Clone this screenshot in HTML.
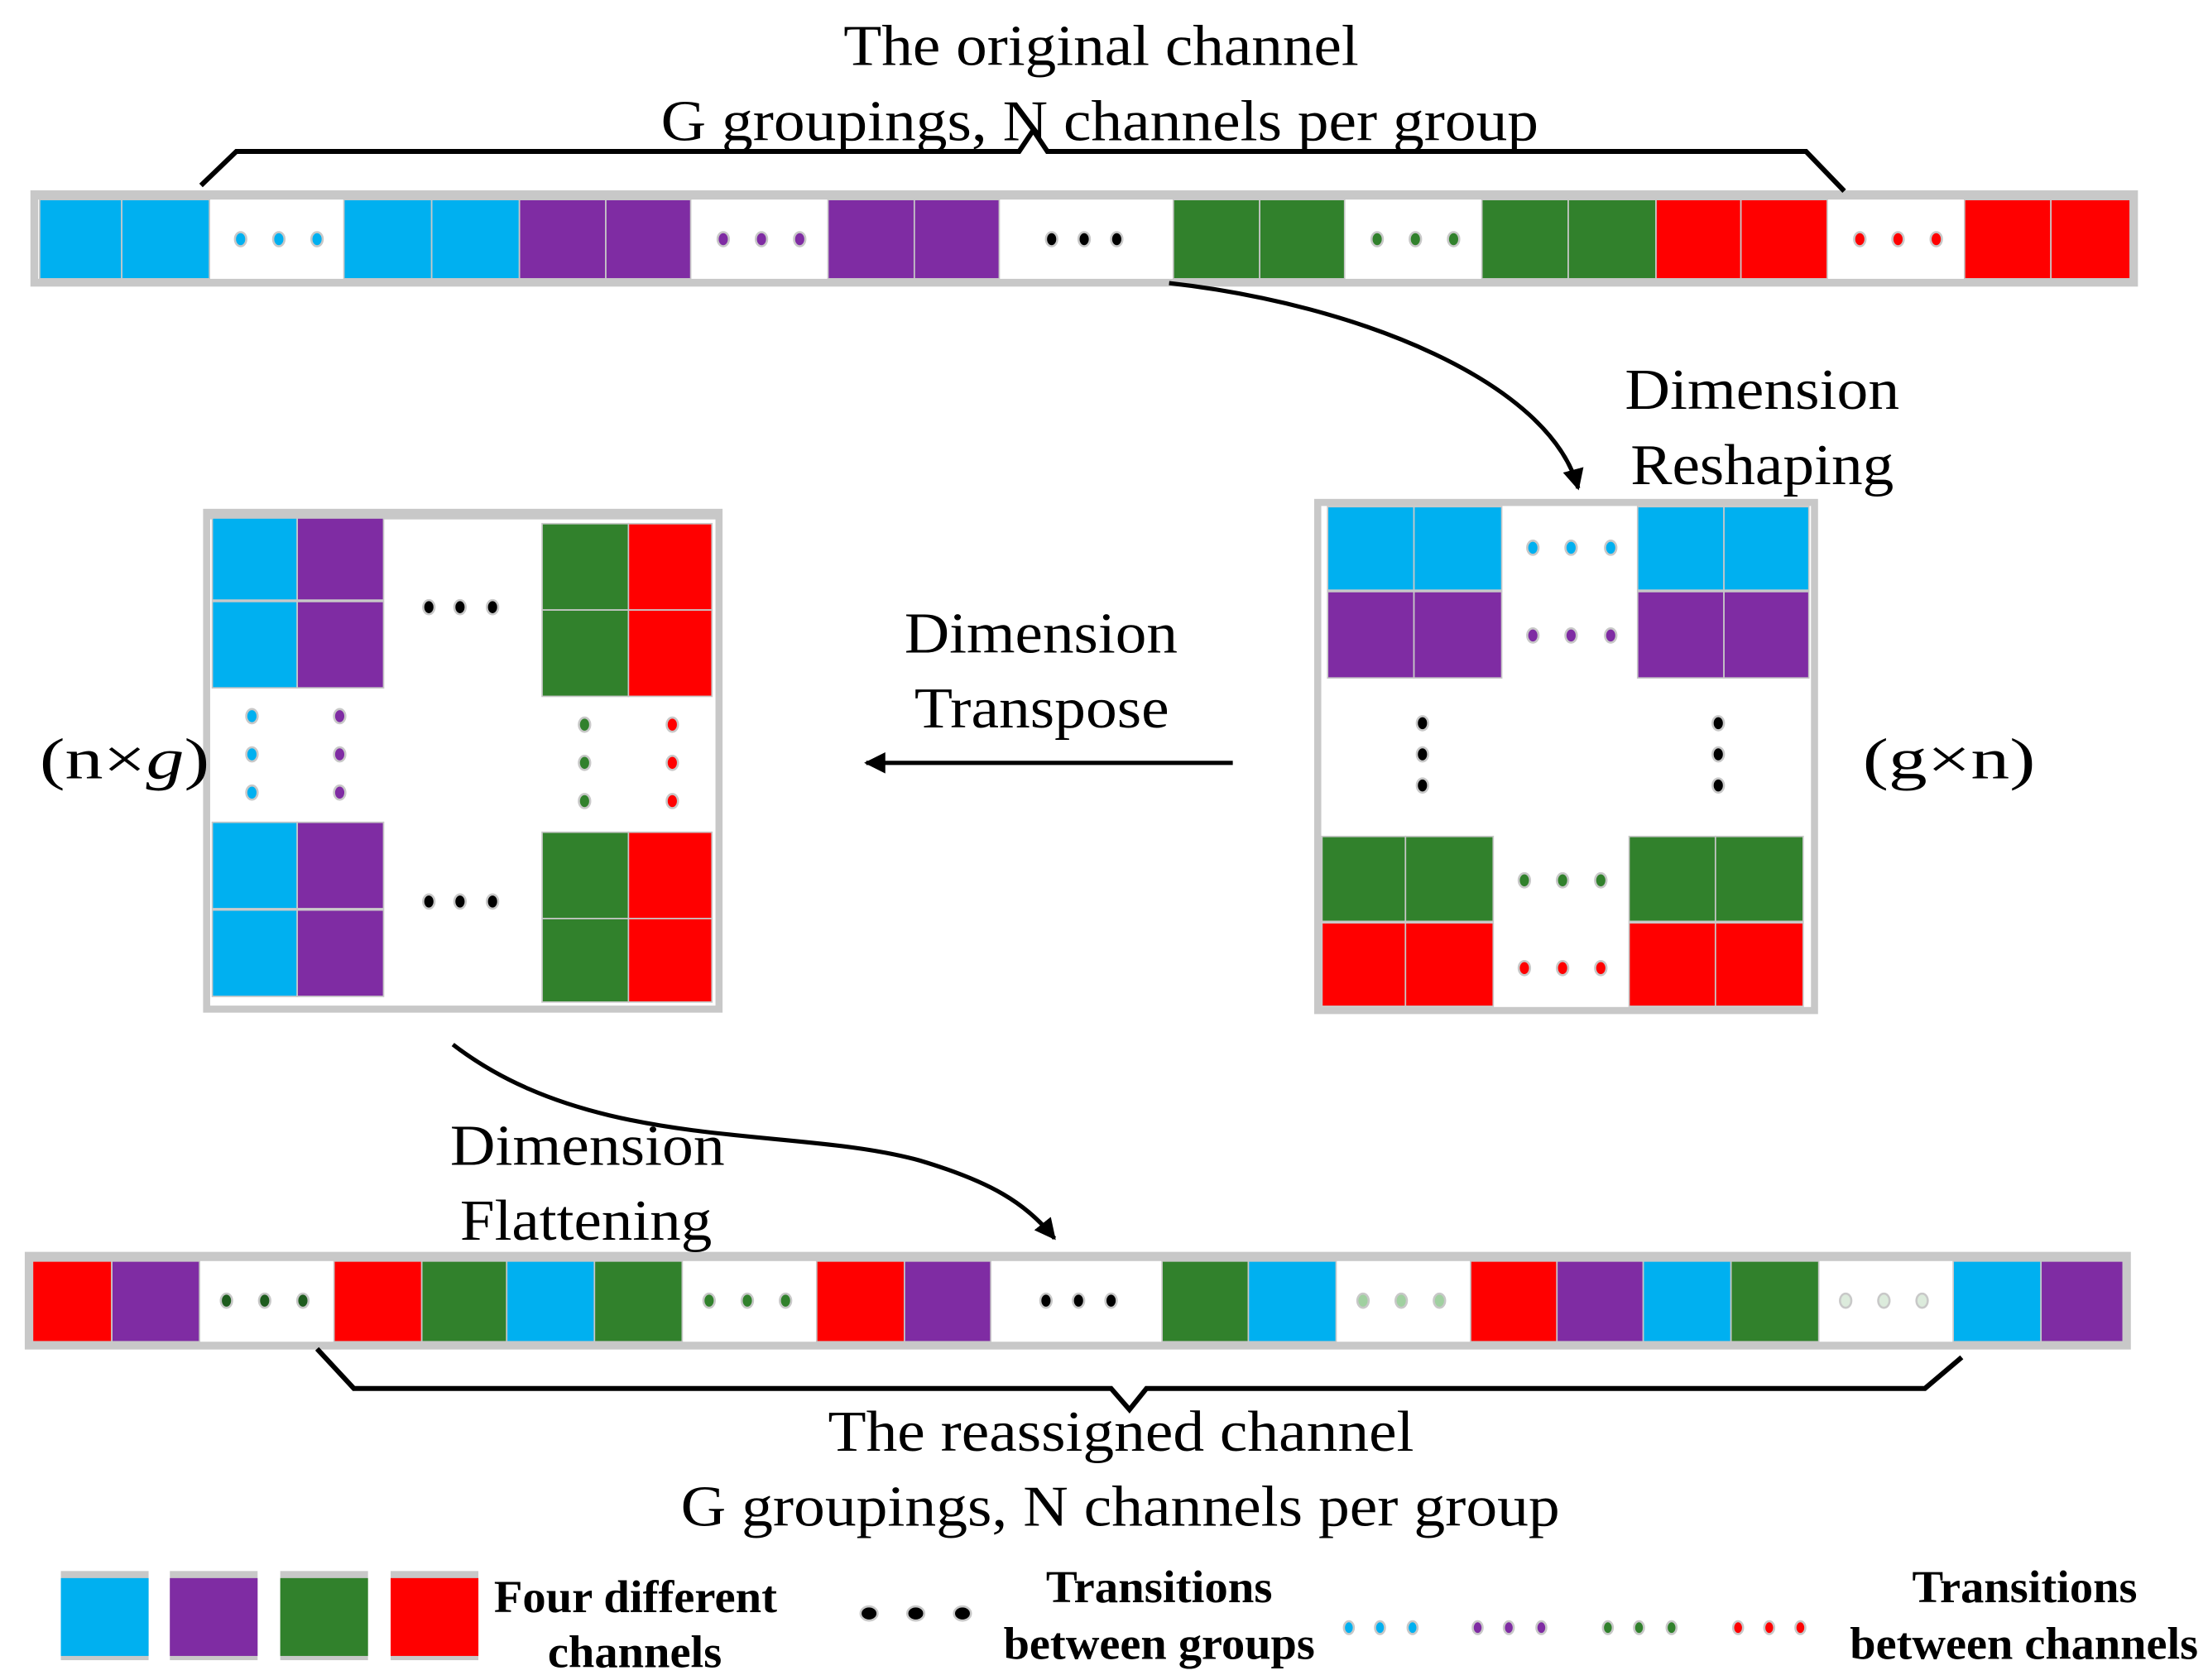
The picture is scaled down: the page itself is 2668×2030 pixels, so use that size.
<!DOCTYPE html>
<html><head><meta charset="utf-8"><style>
html,body{margin:0;padding:0;background:#fff;}
svg{display:block;}
text{font-family:"Liberation Serif",serif;fill:#000;}
</style></head><body>
<svg width="2668" height="2030" viewBox="0 0 1560 1187" preserveAspectRatio="none" xmlns="http://www.w3.org/2000/svg">
<defs>
<marker id="ah" viewBox="0 0 10 10" refX="9" refY="5" markerWidth="5" markerHeight="5" orient="auto" markerUnits="strokeWidth"><path d="M0,0 L10,5 L0,10 z" fill="#000"/></marker>
</defs>
<g stroke="#c8c8c8" stroke-width="1">
<!-- TOP BAR -->
<rect x="22" y="135" width="1488" height="67" fill="#c8c8c8"/>
<rect x="27" y="141" width="1478" height="56" fill="#fff" stroke="none"/>
<g>
<rect x="28" y="141" width="58" height="56" fill="#00b0f0"/>
<rect x="86" y="141" width="62" height="56" fill="#00b0f0"/>
<rect x="243" y="141" width="62" height="56" fill="#00b0f0"/>
<rect x="305" y="141" width="62" height="56" fill="#00b0f0"/>
<rect x="367" y="141" width="61" height="56" fill="#7f2ca3"/>
<rect x="428" y="141" width="60" height="56" fill="#7f2ca3"/>
<rect x="585" y="141" width="61" height="56" fill="#7f2ca3"/>
<rect x="646" y="141" width="60" height="56" fill="#7f2ca3"/>
<rect x="829" y="141" width="61" height="56" fill="#31812c"/>
<rect x="890" y="141" width="60" height="56" fill="#31812c"/>
<rect x="1047" y="141" width="61" height="56" fill="#31812c"/>
<rect x="1108" y="141" width="62" height="56" fill="#31812c"/>
<rect x="1170" y="141" width="60" height="56" fill="#ff0000"/>
<rect x="1230" y="141" width="61" height="56" fill="#ff0000"/>
<rect x="1388" y="141" width="61" height="56" fill="#ff0000"/>
<rect x="1449" y="141" width="56" height="56" fill="#ff0000"/>
</g>
<g stroke-width="1.5">
<ellipse cx="170" cy="169" rx="4" ry="5" fill="#00b0f0"/><ellipse cx="197" cy="169" rx="4" ry="5" fill="#00b0f0"/><ellipse cx="224" cy="169" rx="4" ry="5" fill="#00b0f0"/>
<ellipse cx="511" cy="169" rx="4" ry="5" fill="#7f2ca3"/><ellipse cx="538" cy="169" rx="4" ry="5" fill="#7f2ca3"/><ellipse cx="565" cy="169" rx="4" ry="5" fill="#7f2ca3"/>
<ellipse cx="743" cy="169" rx="4" ry="5" fill="#000"/><ellipse cx="766" cy="169" rx="4" ry="5" fill="#000"/><ellipse cx="789" cy="169" rx="4" ry="5" fill="#000"/>
<ellipse cx="973" cy="169" rx="4" ry="5" fill="#31812c"/><ellipse cx="1000" cy="169" rx="4" ry="5" fill="#31812c"/><ellipse cx="1027" cy="169" rx="4" ry="5" fill="#31812c"/>
<ellipse cx="1314" cy="169" rx="4" ry="5" fill="#ff0000"/><ellipse cx="1341" cy="169" rx="4" ry="5" fill="#ff0000"/><ellipse cx="1368" cy="169" rx="4" ry="5" fill="#ff0000"/>
</g>

<!-- LEFT BOX (n x g) -->
<rect x="146" y="362" width="362" height="351" fill="#fff" stroke="#c8c8c8" stroke-width="5"/>
<rect x="146" y="362" width="362" height="5" fill="#c8c8c8" stroke="none"/>
<rect x="150" y="366" width="60" height="58" fill="#00b0f0"/>
<rect x="210" y="366" width="61" height="58" fill="#7f2ca3"/>
<rect x="150" y="425" width="60" height="61" fill="#00b0f0"/>
<rect x="210" y="425" width="61" height="61" fill="#7f2ca3"/>
<rect x="383" y="370" width="61" height="61" fill="#31812c"/>
<rect x="444" y="370" width="59" height="61" fill="#ff0000"/>
<rect x="383" y="431" width="61" height="61" fill="#31812c"/>
<rect x="444" y="431" width="59" height="61" fill="#ff0000"/>
<rect x="150" y="581" width="60" height="61" fill="#00b0f0"/>
<rect x="210" y="581" width="61" height="61" fill="#7f2ca3"/>
<rect x="150" y="643" width="60" height="61" fill="#00b0f0"/>
<rect x="210" y="643" width="61" height="61" fill="#7f2ca3"/>
<rect x="383" y="588" width="61" height="61" fill="#31812c"/>
<rect x="444" y="588" width="59" height="61" fill="#ff0000"/>
<rect x="383" y="649" width="61" height="59" fill="#31812c"/>
<rect x="444" y="649" width="59" height="59" fill="#ff0000"/>
<g stroke-width="1.5">
<ellipse cx="303" cy="429" rx="4" ry="5" fill="#000"/><ellipse cx="325" cy="429" rx="4" ry="5" fill="#000"/><ellipse cx="348" cy="429" rx="4" ry="5" fill="#000"/>
<ellipse cx="303" cy="637" rx="4" ry="5" fill="#000"/><ellipse cx="325" cy="637" rx="4" ry="5" fill="#000"/><ellipse cx="348" cy="637" rx="4" ry="5" fill="#000"/>
<ellipse cx="178" cy="506" rx="4" ry="5" fill="#00b0f0"/><ellipse cx="178" cy="533" rx="4" ry="5" fill="#00b0f0"/><ellipse cx="178" cy="560" rx="4" ry="5" fill="#00b0f0"/>
<ellipse cx="240" cy="506" rx="4" ry="5" fill="#7f2ca3"/><ellipse cx="240" cy="533" rx="4" ry="5" fill="#7f2ca3"/><ellipse cx="240" cy="560" rx="4" ry="5" fill="#7f2ca3"/>
<ellipse cx="413" cy="512" rx="4" ry="5" fill="#31812c"/><ellipse cx="413" cy="539" rx="4" ry="5" fill="#31812c"/><ellipse cx="413" cy="566" rx="4" ry="5" fill="#31812c"/>
<ellipse cx="475" cy="512" rx="4" ry="5" fill="#ff0000"/><ellipse cx="475" cy="539" rx="4" ry="5" fill="#ff0000"/><ellipse cx="475" cy="566" rx="4" ry="5" fill="#ff0000"/>
</g>

<!-- RIGHT BOX (g x n) -->
<rect x="931" y="355" width="351" height="359" fill="#fff" stroke="#c8c8c8" stroke-width="5"/>
<rect x="938" y="358" width="61" height="59" fill="#00b0f0"/>
<rect x="999" y="358" width="62" height="59" fill="#00b0f0"/>
<rect x="1157" y="358" width="61" height="59" fill="#00b0f0"/>
<rect x="1218" y="358" width="60" height="59" fill="#00b0f0"/>
<rect x="938" y="418" width="61" height="61" fill="#7f2ca3"/>
<rect x="999" y="418" width="62" height="61" fill="#7f2ca3"/>
<rect x="1157" y="418" width="61" height="61" fill="#7f2ca3"/>
<rect x="1218" y="418" width="60" height="61" fill="#7f2ca3"/>
<rect x="934" y="591" width="59" height="60" fill="#31812c"/>
<rect x="993" y="591" width="62" height="60" fill="#31812c"/>
<rect x="1151" y="591" width="61" height="60" fill="#31812c"/>
<rect x="1212" y="591" width="62" height="60" fill="#31812c"/>
<rect x="934" y="652" width="59" height="59" fill="#ff0000"/>
<rect x="993" y="652" width="62" height="59" fill="#ff0000"/>
<rect x="1151" y="652" width="61" height="59" fill="#ff0000"/>
<rect x="1212" y="652" width="62" height="59" fill="#ff0000"/>
<g stroke-width="1.5">
<ellipse cx="1083" cy="387" rx="4" ry="5" fill="#00b0f0"/><ellipse cx="1110" cy="387" rx="4" ry="5" fill="#00b0f0"/><ellipse cx="1138" cy="387" rx="4" ry="5" fill="#00b0f0"/>
<ellipse cx="1083" cy="449" rx="4" ry="5" fill="#7f2ca3"/><ellipse cx="1110" cy="449" rx="4" ry="5" fill="#7f2ca3"/><ellipse cx="1138" cy="449" rx="4" ry="5" fill="#7f2ca3"/>
<ellipse cx="1005" cy="511" rx="4" ry="5" fill="#000"/><ellipse cx="1005" cy="533" rx="4" ry="5" fill="#000"/><ellipse cx="1005" cy="555" rx="4" ry="5" fill="#000"/>
<ellipse cx="1214" cy="511" rx="4" ry="5" fill="#000"/><ellipse cx="1214" cy="533" rx="4" ry="5" fill="#000"/><ellipse cx="1214" cy="555" rx="4" ry="5" fill="#000"/>
<ellipse cx="1077" cy="622" rx="4" ry="5" fill="#31812c"/><ellipse cx="1104" cy="622" rx="4" ry="5" fill="#31812c"/><ellipse cx="1131" cy="622" rx="4" ry="5" fill="#31812c"/>
<ellipse cx="1077" cy="684" rx="4" ry="5" fill="#ff0000"/><ellipse cx="1104" cy="684" rx="4" ry="5" fill="#ff0000"/><ellipse cx="1131" cy="684" rx="4" ry="5" fill="#ff0000"/>
</g>

<!-- BOTTOM BAR -->
<rect x="18" y="885" width="1487" height="68" fill="#c8c8c8"/>
<rect x="23" y="891" width="1477" height="57" fill="#fff" stroke="none"/>
<rect x="23" y="891" width="56" height="57" fill="#ff0000"/>
<rect x="79" y="891" width="62" height="57" fill="#7f2ca3"/>
<rect x="236" y="891" width="62" height="57" fill="#ff0000"/>
<rect x="298" y="891" width="60" height="57" fill="#31812c"/>
<rect x="358" y="891" width="62" height="57" fill="#00b0f0"/>
<rect x="420" y="891" width="62" height="57" fill="#31812c"/>
<rect x="577" y="891" width="62" height="57" fill="#ff0000"/>
<rect x="639" y="891" width="61" height="57" fill="#7f2ca3"/>
<rect x="821" y="891" width="61" height="57" fill="#31812c"/>
<rect x="882" y="891" width="62" height="57" fill="#00b0f0"/>
<rect x="1039" y="891" width="61" height="57" fill="#ff0000"/>
<rect x="1100" y="891" width="61" height="57" fill="#7f2ca3"/>
<rect x="1161" y="891" width="62" height="57" fill="#00b0f0"/>
<rect x="1223" y="891" width="62" height="57" fill="#31812c"/>
<rect x="1380" y="891" width="62" height="57" fill="#00b0f0"/>
<rect x="1442" y="891" width="58" height="57" fill="#7f2ca3"/>
<g stroke-width="1.5">
<ellipse cx="160" cy="919" rx="4" ry="5" fill="#1e5c1e"/><ellipse cx="187" cy="919" rx="4" ry="5" fill="#1e5c1e"/><ellipse cx="214" cy="919" rx="4" ry="5" fill="#1e5c1e"/>
<ellipse cx="501" cy="919" rx="4" ry="5" fill="#31812c"/><ellipse cx="528" cy="919" rx="4" ry="5" fill="#31812c"/><ellipse cx="555" cy="919" rx="4" ry="5" fill="#31812c"/>
<ellipse cx="739" cy="919" rx="4" ry="5" fill="#000"/><ellipse cx="762" cy="919" rx="4" ry="5" fill="#000"/><ellipse cx="785" cy="919" rx="4" ry="5" fill="#000"/>
<ellipse cx="963" cy="919" rx="4" ry="5" fill="#a0d0a0"/><ellipse cx="990" cy="919" rx="4" ry="5" fill="#a0d0a0"/><ellipse cx="1017" cy="919" rx="4" ry="5" fill="#a0d0a0"/>
<ellipse cx="1304" cy="919" rx="4" ry="5" fill="#dcebdc"/><ellipse cx="1331" cy="919" rx="4" ry="5" fill="#dcebdc"/><ellipse cx="1358" cy="919" rx="4" ry="5" fill="#dcebdc"/>
</g>

<!-- LEGEND -->
<g stroke-width="0">
<rect x="43" y="1110" width="62" height="63" fill="#c8c8c8"/><rect x="43" y="1115" width="62" height="55" fill="#00b0f0"/>
<rect x="120" y="1110" width="62" height="63" fill="#c8c8c8"/><rect x="120" y="1115" width="62" height="55" fill="#7f2ca3"/>
<rect x="198" y="1110" width="62" height="63" fill="#c8c8c8"/><rect x="198" y="1115" width="62" height="55" fill="#31812c"/>
<rect x="276" y="1110" width="62" height="63" fill="#c8c8c8"/><rect x="276" y="1115" width="62" height="55" fill="#ff0000"/>
</g>
<g stroke-width="1.5">
<ellipse cx="614" cy="1140" rx="6" ry="5" fill="#000"/><ellipse cx="647" cy="1140" rx="6" ry="5" fill="#000"/><ellipse cx="680" cy="1140" rx="6" ry="5" fill="#000"/>
<ellipse cx="953" cy="1150" rx="3.5" ry="4.5" fill="#00b0f0"/><ellipse cx="975" cy="1150" rx="3.5" ry="4.5" fill="#00b0f0"/><ellipse cx="998" cy="1150" rx="3.5" ry="4.5" fill="#00b0f0"/>
<ellipse cx="1044" cy="1150" rx="3.5" ry="4.5" fill="#7f2ca3"/><ellipse cx="1066" cy="1150" rx="3.5" ry="4.5" fill="#7f2ca3"/><ellipse cx="1089" cy="1150" rx="3.5" ry="4.5" fill="#7f2ca3"/>
<ellipse cx="1136" cy="1150" rx="3.5" ry="4.5" fill="#31812c"/><ellipse cx="1158" cy="1150" rx="3.5" ry="4.5" fill="#31812c"/><ellipse cx="1181" cy="1150" rx="3.5" ry="4.5" fill="#31812c"/>
<ellipse cx="1228" cy="1150" rx="3.5" ry="4.5" fill="#ff0000"/><ellipse cx="1250" cy="1150" rx="3.5" ry="4.5" fill="#ff0000"/><ellipse cx="1272" cy="1150" rx="3.5" ry="4.5" fill="#ff0000"/>
</g>
</g>

<!-- brackets -->
<path d="M142,131 L167,107 L720,107 L730,92 L740,107 L1276,107 L1303,135" fill="none" stroke="#000" stroke-width="3.5"/>
<path d="M224,953 L250,981 L785,981 L798,996 L810,981 L1360,981 L1386,959" fill="none" stroke="#000" stroke-width="3.5"/>

<!-- connectors -->
<path d="M826,200 C960,215 1095,270 1115,345" fill="none" stroke="#000" stroke-width="3" marker-end="url(#ah)"/>
<path d="M871,539 L612,539" fill="none" stroke="#000" stroke-width="3" marker-end="url(#ah)"/>
<path d="M320,738 C420,815 560,795 650,820 C700,835 725,850 745,875" fill="none" stroke="#000" stroke-width="3" marker-end="url(#ah)"/>

<!-- text -->
<g font-size="41" lengthAdjust="spacingAndGlyphs">
<text x="596" y="46" textLength="364" lengthAdjust="spacingAndGlyphs">The original channel</text>
<text x="467" y="99" textLength="620" lengthAdjust="spacingAndGlyphs">G groupings, N channels per group</text>
<text x="1148" y="289" textLength="194" lengthAdjust="spacingAndGlyphs">Dimension</text>
<text x="1152" y="342" textLength="186" lengthAdjust="spacingAndGlyphs">Reshaping</text>
<text x="639" y="461" textLength="193" lengthAdjust="spacingAndGlyphs">Dimension</text>
<text x="646" y="514" textLength="180" lengthAdjust="spacingAndGlyphs">Transpose</text>
<text x="318" y="823" textLength="194" lengthAdjust="spacingAndGlyphs">Dimension</text>
<text x="325" y="876" textLength="178" lengthAdjust="spacingAndGlyphs">Flattening</text>
<text x="585" y="1025" textLength="414" lengthAdjust="spacingAndGlyphs">The reassigned channel</text>
<text x="481" y="1078" textLength="621" lengthAdjust="spacingAndGlyphs">G groupings, N channels per group</text>
<text x="28" y="550" textLength="120" lengthAdjust="spacingAndGlyphs">(n×<tspan font-style="italic">g</tspan>)</text>
<text x="1316" y="550" textLength="122" lengthAdjust="spacingAndGlyphs">(g×n)</text>
</g>
<g font-size="32" font-weight="bold">
<text x="349" y="1139" textLength="200" lengthAdjust="spacingAndGlyphs">Four different</text>
<text x="387" y="1178" textLength="123" lengthAdjust="spacingAndGlyphs">channels</text>
<text x="739" y="1132" textLength="160" lengthAdjust="spacingAndGlyphs">Transitions</text>
<text x="709" y="1172" textLength="220" lengthAdjust="spacingAndGlyphs">between groups</text>
<text x="1351" y="1132" textLength="159" lengthAdjust="spacingAndGlyphs">Transitions</text>
<text x="1307" y="1172" textLength="246" lengthAdjust="spacingAndGlyphs">between channels</text>
</g>
</svg>
</body></html>
